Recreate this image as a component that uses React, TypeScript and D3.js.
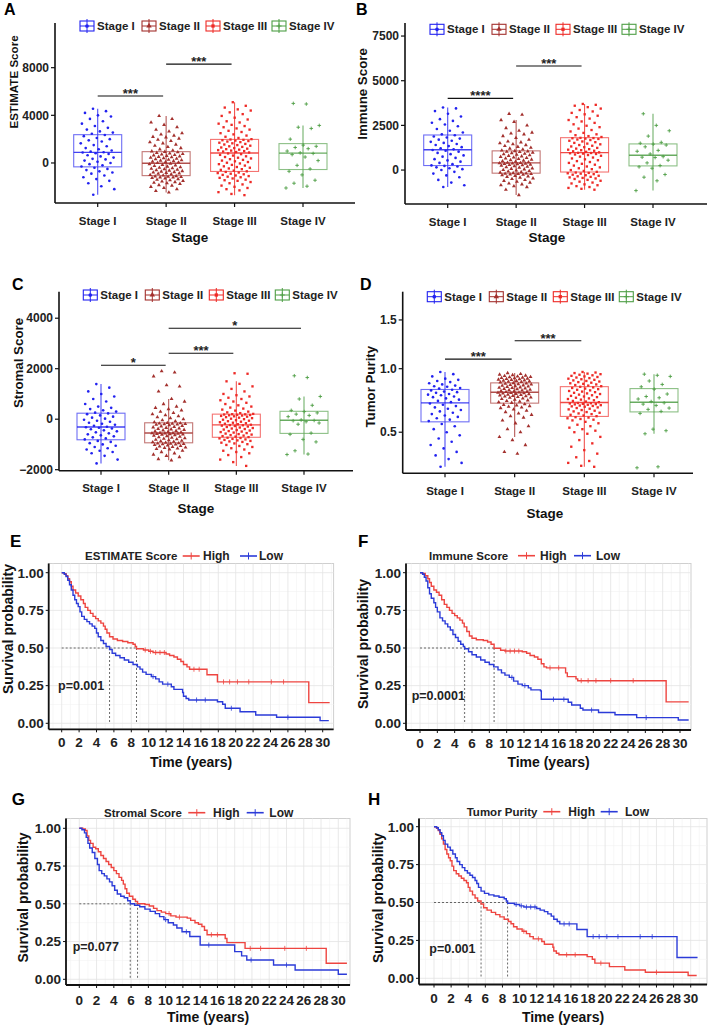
import React from "react";
import * as d3 from "d3";

const FONT = "'Liberation Sans', Arial, Helvetica, sans-serif";

const stages = ["Stage I", "Stage II", "Stage III", "Stage IV"];
const stageColors = ["#2222F0", "#A3302D", "#EE2A26", "#4E9E45"];
const stageShapes = ["circle", "triangle", "square", "plus"];

// ---------- Panel A: ESTIMATE score by stage ----------
const estimateStageI = [-2670, -2200, -1950, -1700, -1500, -1350, -1200, -1050, -900, -800, -700, -600, -500, -400,
  -300, -200, -100, 0, 100, 200, 300, 350, 450, 550, 650, 750, 820, 880, 900, 950, 1050, 1150, 1250, 1400, 1500, 1650, 1800, 1900, 2000, 2100, 2250, 2350,
  2450, 2550, 2650, 2800, 2950, 3100, 3300, 3500, 3700, 3900, 4000, 4200, 4350, 4550];
const estimateStageII = [-2470, -2350, -2200, -2100, -2000, -1900, -1850, -1750, -1700, -1650, -1600, -1550, -1500, -1450, -1400, -1350, -1300, -1250, -1220, -1200, -1170, -1150, -1120, -1100,
  -1050, -1000, -950, -900, -870, -830, -800, -760, -720, -680, -640, -600, -560, -520, -480, -440, -400, -350, -300, -250, -200, -150, -100, -50,
  0, 40, 80, 120, 160, 200, 240, 280, 320, 360, 400, 440, 480, 520, 560, 600, 640, 680, 720, 760, 800, 850, 900, 940,
  980, 1050, 1150, 1250, 1350, 1450, 1550, 1650, 1750, 1850, 1950, 2050, 2150, 2200, 2300, 2400, 2500, 2650, 2800, 3000, 3200, 3400, 3700, 3950];
const estimateStageIII = [-2700, -2600, -2450, -2300, -2200, -2100, -2000, -1900, -1800, -1700, -1600, -1500, -1450, -1400, -1300, -1250, -1200, -1150, -1100, -1050, -1000, -950, -900, -850, -800, -750,
  -700, -640, -580, -520, -460, -400, -340, -280, -220, -160, -100, -40, 20, 80, 140, 200, 260, 320, 380, 440, 500, 560, 620, 680, 740, 800,
  880, 920, 960, 1000, 1040, 1080, 1120, 1160, 1200, 1250, 1300, 1350, 1400, 1450, 1500, 1550, 1600, 1650, 1700, 1750, 1800, 1840, 1880, 1910, 1940, 1970,
  2000, 2100, 2200, 2300, 2400, 2500, 2600, 2700, 2800, 2900, 3000, 3100, 3200, 3300, 3400, 3500, 3650, 3800, 3950, 4100, 4250, 4400, 4500, 4650, 4800, 5100];
const estimateStageIV = [-2100, -1950, -1700, -1450, -1000, -700, -500, -200, 200, 500, 700, 800, 850, 1000, 1200, 1300, 1400, 1500, 2000, 2900, 3000, 3150, 4950, 5000];
const estimateTicks = [0, 4000, 8000];

// ---------- Panel B: Immune score by stage ----------
const immuneStageI = [-950, -850, -700, -550, -400, -300, -200, -100, 0, 50, 100, 150, 200, 230,
  260, 330, 400, 470, 540, 610, 680, 750, 820, 890, 960, 1030, 1080, 1120,
  1160, 1220, 1280, 1340, 1400, 1460, 1520, 1580, 1640, 1700, 1760, 1820, 1880, 1950,
  2000, 2100, 2200, 2300, 2450, 2550, 2650, 2750, 2850, 3000, 3150, 3300, 3450, 3500];
const immuneStageII = [-1400, -1100, -950, -900, -850, -800, -750, -700, -650, -600, -550, -500, -460, -420, -380, -350, -320, -290, -260, -240, -220, -210, -200, -190,
  -170, -140, -110, -80, -50, -20, 10, 40, 70, 100, 130, 160, 190, 220, 250, 270, 290, 310, 330, 350, 360, 370, 385, 395,
  410, 440, 470, 500, 530, 560, 590, 620, 650, 680, 710, 740, 770, 800, 830, 860, 890, 920, 950, 980, 1010, 1030, 1050, 1065,
  1100, 1150, 1200, 1250, 1300, 1350, 1400, 1450, 1500, 1550, 1600, 1700, 1800, 1900, 2000, 2050, 2100, 2200, 2350, 2500, 2700, 2800, 3100, 3150];
const immuneStageIII = [-1100, -1050, -1000, -950, -900, -850, -800, -750, -700, -650, -600, -550, -500, -470, -440, -410, -380, -350, -320, -290, -260, -230, -200, -180, -160, -140,
  -100, -50, 0, 50, 100, 150, 200, 250, 300, 350, 400, 450, 500, 550, 600, 650, 700, 750, 800, 840, 870, 900, 920, 940, 955, 965,
  990, 1020, 1050, 1080, 1110, 1140, 1170, 1200, 1240, 1280, 1320, 1360, 1400, 1440, 1480, 1520, 1560, 1600, 1640, 1680, 1710, 1740, 1760, 1780, 1790, 1800,
  1850, 1900, 1950, 2000, 2080, 2160, 2240, 2320, 2400, 2480, 2560, 2640, 2720, 2800, 2880, 2960, 3040, 3120, 3200, 3280, 3360, 3440, 3520, 3600, 3650, 3700];
const immuneStageIV = [-1150, -600, -400, -250, 100, 180, 250, 400, 550, 700, 720, 750, 900, 1050, 1100, 1300, 1400, 1450, 1500, 1550, 1900, 2200, 2500, 3150];
const immuneTicks = [0, 2500, 5000, 7500];

// ---------- Panel C: Stromal score by stage ----------
const stromalStageI = [-1750, -1600, -1450, -1350, -1300, -1250, -1200, -1150, -1100, -1050, -1000, -950, -900, -860,
  -800, -760, -720, -680, -640, -600, -560, -520, -480, -440, -400, -370, -340, -320,
  -300, -260, -220, -180, -140, -100, -60, -20, 20, 60, 100, 150, 200, 230,
  260, 300, 350, 400, 450, 500, 600, 700, 800, 900, 1000, 1100, 1250, 1390];
const stromalStageII = [-1630, -1580, -1500, -1450, -1400, -1350, -1300, -1250, -1200, -1180, -1160, -1140, -1120, -1100, -1080, -1060, -1040, -1020, -1000, -990, -980, -970, -960, -950,
  -930, -910, -890, -870, -850, -830, -810, -790, -770, -750, -730, -710, -690, -670, -650, -630, -610, -600, -590, -580, -570, -560, -555, -548,
  -540, -520, -500, -480, -460, -440, -420, -400, -380, -360, -340, -320, -300, -280, -260, -240, -220, -210, -200, -190, -180, -170, -160, -150,
  -120, -80, -40, 0, 40, 80, 120, 160, 200, 250, 300, 350, 400, 450, 500, 600, 700, 800, 1100, 1300, 1350, 1700, 1850, 1900];
const stromalStageIII = [-1850, -1700, -1600, -1500, -1420, -1350, -1300, -1250, -1200, -1150, -1100, -1060, -1020, -990, -960, -930, -900, -880, -860, -840, -820, -800, -780, -760, -745, -735,
  -710, -690, -670, -650, -630, -610, -590, -570, -550, -530, -510, -490, -470, -450, -430, -410, -390, -370, -350, -330, -310, -290, -270, -255, -240, -232,
  -220, -200, -180, -160, -140, -120, -100, -80, -60, -40, -20, 0, 20, 40, 60, 80, 100, 115, 130, 145, 155, 165, 175, 185, 192, 197,
  210, 240, 270, 300, 340, 380, 420, 460, 500, 550, 600, 650, 700, 750, 800, 850, 900, 950, 1000, 1100, 1200, 1300, 1400, 1500, 1800, 1820];
const stromalStageIV = [-1400, -1380, -1250, -900, -800, -600, -550, -200, -150, -100, -60, -50, -30, 100, 150, 200, 250, 300, 350, 550, 800, 900, 1650, 1720];
const stromalTicks = [-2000, 0, 2000, 4000];

// ---------- Panel D: Tumor purity by stage ----------
const purityStageI = [0.30, 0.32, 0.34, 0.36, 0.38, 0.40, 0.42, 0.44, 0.46, 0.48, 0.50, 0.52, 0.54, 0.555,
  0.575, 0.585, 0.595, 0.605, 0.615, 0.625, 0.635, 0.645, 0.655, 0.665, 0.675, 0.685, 0.695, 0.705,
  0.715, 0.725, 0.735, 0.745, 0.755, 0.76, 0.77, 0.775, 0.78, 0.79, 0.795, 0.80, 0.81, 0.815,
  0.825, 0.83, 0.84, 0.845, 0.85, 0.86, 0.87, 0.88, 0.89, 0.90, 0.91, 0.93, 0.95, 0.97];
const purityStageII = [0.37, 0.38, 0.42, 0.45, 0.47, 0.50, 0.52, 0.54, 0.56, 0.58, 0.60, 0.61, 0.62, 0.63, 0.64, 0.65, 0.66, 0.67, 0.675, 0.68, 0.685, 0.69, 0.695, 0.70,
  0.71, 0.715, 0.72, 0.725, 0.73, 0.735, 0.74, 0.745, 0.75, 0.753, 0.756, 0.76, 0.763, 0.766, 0.77, 0.773, 0.776, 0.78, 0.782, 0.785, 0.787, 0.789, 0.791, 0.793,
  0.797, 0.80, 0.803, 0.806, 0.81, 0.813, 0.816, 0.82, 0.823, 0.826, 0.83, 0.833, 0.836, 0.84, 0.843, 0.846, 0.85, 0.853, 0.856, 0.86, 0.863, 0.866, 0.869, 0.872,
  0.878, 0.881, 0.884, 0.887, 0.89, 0.893, 0.896, 0.899, 0.902, 0.905, 0.908, 0.911, 0.914, 0.917, 0.92, 0.923, 0.926, 0.93, 0.934, 0.938, 0.942, 0.947, 0.952, 0.96];
const purityStageIII = [0.30, 0.305, 0.32, 0.33, 0.35, 0.37, 0.39, 0.41, 0.43, 0.45, 0.47, 0.49, 0.50, 0.51, 0.52, 0.53, 0.54, 0.55, 0.56, 0.57, 0.58, 0.585, 0.59, 0.595, 0.60, 0.603,
  0.61, 0.615, 0.62, 0.625, 0.63, 0.635, 0.64, 0.645, 0.65, 0.655, 0.66, 0.665, 0.67, 0.675, 0.68, 0.683, 0.686, 0.689, 0.692, 0.695, 0.698, 0.70, 0.702, 0.705, 0.707, 0.709,
  0.715, 0.72, 0.725, 0.73, 0.735, 0.74, 0.745, 0.75, 0.755, 0.76, 0.765, 0.77, 0.775, 0.78, 0.785, 0.79, 0.795, 0.80, 0.805, 0.81, 0.815, 0.82, 0.825, 0.83, 0.835, 0.84,
  0.845, 0.85, 0.855, 0.86, 0.865, 0.87, 0.875, 0.88, 0.885, 0.89, 0.895, 0.90, 0.905, 0.91, 0.915, 0.92, 0.925, 0.93, 0.935, 0.94, 0.945, 0.95, 0.955, 0.96, 0.965, 0.97];
const purityStageIV = [0.295, 0.30, 0.49, 0.51, 0.52, 0.63, 0.645, 0.66, 0.67, 0.69, 0.70, 0.71, 0.72, 0.74, 0.75, 0.76, 0.78, 0.82, 0.84, 0.86, 0.89, 0.93, 0.94, 0.95];
const purityTicks = [0.5, 1.0, 1.5];

// significance brackets (group1, group2, value height, label)
const estimateSig = [["Stage I", "Stage II", 5620, "***"], ["Stage II", "Stage III", 8300, "***"]];
const immuneSig = [["Stage I", "Stage II", 4010, "****"], ["Stage II", "Stage III", 5820, "***"]];
const stromalSig = [["Stage I", "Stage II", 2135, "*"], ["Stage II", "Stage III", 2610, "***"], ["Stage II", "Stage IV", 3600, "*"]];
const puritySig = [["Stage I", "Stage II", 1.09, "***"], ["Stage II", "Stage III", 1.275, "***"]];

// ---------- Kaplan-Meier curves: [time (years), survival] ----------
const estimateHigh = [[0, 1], [0.3, 0.993], [0.5, 0.98], [0.7, 0.96], [0.9, 0.94], [1.1, 0.91], [1.3, 0.885], [1.6, 0.865], [1.9, 0.845], [2.2, 0.82], [2.5, 0.795], [2.7, 0.77], [3.0, 0.75], [3.3, 0.73], [3.6, 0.71], [3.9, 0.695], [4.2, 0.68], [4.5, 0.665], [4.8, 0.645], [5.0, 0.625], [5.2, 0.6], [5.5, 0.575], [5.9, 0.56], [6.4, 0.55], [7.0, 0.543], [7.6, 0.535], [8.2, 0.525], [8.45, 0.51], [8.6, 0.495], [9.4, 0.487], [10.0, 0.478], [10.5, 0.47], [12.0, 0.46], [12.4, 0.45], [12.9, 0.44], [13.3, 0.425], [13.7, 0.41], [14.0, 0.39], [14.4, 0.375], [14.7, 0.359], [16.7, 0.322], [17.9, 0.275], [28.4, 0.137], [30.8, 0.137]];
const estimateLow = [[0, 1], [0.3, 0.99], [0.5, 0.975], [0.7, 0.95], [0.9, 0.92], [1.1, 0.885], [1.3, 0.85], [1.5, 0.82], [1.7, 0.795], [1.9, 0.775], [2.1, 0.74], [2.3, 0.71], [2.6, 0.69], [2.9, 0.675], [3.2, 0.66], [3.5, 0.645], [3.8, 0.63], [4.0, 0.6], [4.2, 0.575], [4.5, 0.55], [4.8, 0.53], [5.1, 0.51], [5.5, 0.49], [5.8, 0.465], [6.2, 0.45], [6.7, 0.435], [7.2, 0.42], [7.7, 0.405], [8.2, 0.39], [8.7, 0.375], [9.0, 0.36], [9.3, 0.34], [9.7, 0.325], [10.3, 0.31], [10.8, 0.295], [11.2, 0.275], [11.6, 0.26], [12.6, 0.243], [12.9, 0.225], [13.9, 0.205], [14.0, 0.18], [14.3, 0.165], [14.6, 0.155], [17.9, 0.143], [18.5, 0.126], [18.8, 0.1], [20.5, 0.077], [22.3, 0.055], [24.7, 0.04], [29.7, 0.018], [30.7, 0.018]];
const estimateHighCensor = [9.6, 10.2, 10.8, 11.3, 11.8, 15.2, 15.8, 18.6, 19.3, 20.2, 21.5, 24.1, 25.5];
const estimateLowCensor = [10.5, 12.2, 15.5, 16.5, 19.5, 26.0];

const immuneHigh = [[0, 1], [0.3, 0.995], [0.6, 0.98], [0.9, 0.96], [1.1, 0.935], [1.3, 0.91], [1.6, 0.885], [1.9, 0.87], [2.2, 0.85], [2.5, 0.82], [2.8, 0.79], [3.1, 0.77], [3.4, 0.75], [3.7, 0.73], [4.0, 0.715], [4.3, 0.7], [4.6, 0.685], [4.9, 0.665], [5.1, 0.64], [5.4, 0.61], [5.7, 0.58], [6.0, 0.565], [6.5, 0.555], [7.3, 0.55], [7.8, 0.54], [8.2, 0.525], [8.55, 0.498], [9.3, 0.485], [9.8, 0.48], [11.8, 0.475], [12.3, 0.465], [12.7, 0.45], [13.2, 0.44], [13.6, 0.425], [14.0, 0.395], [14.3, 0.375], [14.6, 0.368], [16.8, 0.335], [17.0, 0.31], [18.0, 0.295], [18.2, 0.283], [28.4, 0.142], [31.0, 0.142]];
const immuneLow = [[0, 1], [0.3, 0.99], [0.5, 0.97], [0.7, 0.945], [0.9, 0.9], [1.1, 0.86], [1.3, 0.83], [1.6, 0.8], [1.8, 0.77], [2.0, 0.74], [2.3, 0.7], [2.6, 0.68], [2.9, 0.66], [3.2, 0.64], [3.5, 0.62], [3.8, 0.59], [4.1, 0.57], [4.4, 0.545], [4.7, 0.525], [5.0, 0.51], [5.15, 0.495], [5.6, 0.475], [6.0, 0.455], [6.5, 0.44], [7.0, 0.42], [7.5, 0.405], [8.0, 0.39], [8.5, 0.375], [9.0, 0.355], [9.4, 0.335], [9.8, 0.32], [10.3, 0.305], [10.8, 0.28], [11.3, 0.26], [11.8, 0.25], [12.5, 0.235], [12.8, 0.222], [13.9, 0.215], [14.0, 0.16], [17.1, 0.14], [17.5, 0.122], [18.5, 0.1], [18.8, 0.088], [20.6, 0.072], [22.5, 0.057], [25.0, 0.038], [29.8, 0.022], [31.0, 0.022]];
const immuneHighCensor = [9.9, 10.4, 10.9, 11.4, 15.0, 16.0, 18.6, 19.4, 20.3, 22.0, 24.6];
const immuneLowCensor = [10.6, 12.1, 15.4, 16.6, 19.8, 26.1];

const stromalHigh = [[0, 1], [0.4, 0.995], [0.7, 0.985], [0.9, 0.95], [1.1, 0.92], [1.3, 0.9], [1.6, 0.875], [1.9, 0.865], [2.2, 0.845], [2.5, 0.82], [2.8, 0.8], [3.1, 0.78], [3.4, 0.76], [3.7, 0.74], [4.0, 0.72], [4.3, 0.7], [4.6, 0.675], [4.9, 0.655], [5.1, 0.63], [5.3, 0.6], [5.5, 0.57], [5.8, 0.55], [6.2, 0.53], [6.5, 0.515], [6.75, 0.5], [7.6, 0.495], [8.1, 0.485], [8.6, 0.47], [9.0, 0.455], [9.5, 0.445], [10.0, 0.435], [10.6, 0.42], [11.2, 0.412], [12.5, 0.405], [12.9, 0.39], [13.4, 0.375], [13.8, 0.365], [14.2, 0.35], [14.5, 0.325], [14.8, 0.295], [16.9, 0.27], [17.1, 0.243], [19.2, 0.205], [28.6, 0.106], [31.0, 0.106]];
const stromalLow = [[0, 1], [0.3, 0.99], [0.6, 0.97], [0.8, 0.94], [1.0, 0.9], [1.2, 0.87], [1.5, 0.84], [1.8, 0.8], [2.1, 0.76], [2.3, 0.72], [2.6, 0.7], [2.9, 0.685], [3.2, 0.665], [3.5, 0.645], [3.8, 0.62], [4.1, 0.59], [4.4, 0.565], [4.8, 0.55], [5.2, 0.54], [5.6, 0.52], [5.9, 0.5], [6.4, 0.49], [7.0, 0.48], [7.6, 0.465], [8.2, 0.45], [8.8, 0.435], [9.3, 0.415], [9.8, 0.395], [10.3, 0.375], [10.9, 0.36], [11.3, 0.34], [11.9, 0.315], [12.8, 0.283], [14.0, 0.227], [18.0, 0.183], [18.8, 0.155], [19.4, 0.128], [22.5, 0.095], [25.0, 0.062], [30.0, 0.033], [31.0, 0.033]];
const stromalHighCensor = [10.4, 11.6, 15.3, 16.0, 19.8, 21.0, 23.8, 26.3];
const stromalLowCensor = [10.0, 12.4, 15.0, 19.9, 24.0];

// Tumor purity groups mirror the ESTIMATE groups (high purity = low ESTIMATE)
const purityHigh = estimateLow;
const purityLow = estimateHigh;
const purityHighCensor = estimateLowCensor;
const purityLowCensor = estimateHighCensor;

const kmXTicks = d3.range(0, 31, 2);
const kmYTicks = [0, 0.25, 0.5, 0.75, 1];
const KM_RED = "#EE4540";
const KM_BLUE = "#2B3BD8";

// ---------- layouts ----------
const boxPanels = [
  { letter: "A", lx: 4, ly: 15, axisX: 55, axisY: 203, top: 23, right: 355, cx: [97.7, 303], domain: [-3360, 11750], sqrt: false, ticks: estimateTicks,
    groups: [estimateStageI, estimateStageII, estimateStageIII, estimateStageIV], sig: estimateSig,
    yTitle: "ESTIMATE Score", ytx: 13, yty: 82, yts: 11.6, legendX: 80, legendY: 26, xTitleX: 190, xTitleY: 237 },
  { letter: "B", lx: 356, ly: 15, axisX: 405, axisY: 204, top: 23, right: 707, cx: [447.7, 653], domain: [-1900, 8230], sqrt: false, ticks: immuneTicks,
    groups: [immuneStageI, immuneStageII, immuneStageIII, immuneStageIV], sig: immuneSig,
    yTitle: "Immune Score", ytx: 362.7, yty: 94, yts: 13.3, legendX: 430, legendY: 29.3, xTitleX: 547, xTitleY: 237.3 },
  { letter: "C", lx: 12, ly: 290, axisX: 59, axisY: 470.7, top: 291.7, right: 353, cx: [101, 304], domain: [-2040, 5050], sqrt: false, ticks: stromalTicks,
    groups: [stromalStageI, stromalStageII, stromalStageIII, stromalStageIV], sig: stromalSig,
    yTitle: "Stromal Score", ytx: 18.3, yty: 363, yts: 13.3, legendX: 83.3, legendY: 295, xTitleX: 196, xTitleY: 508 },
  { letter: "D", lx: 360, ly: 290, axisX: 402.7, axisY: 473.3, top: 291.7, right: 693, cx: [445, 654], domain: [0.268, 1.836], sqrt: true, ticks: purityTicks,
    groups: [purityStageI, purityStageII, purityStageIII, purityStageIV], sig: puritySig,
    yTitle: "Tumor Purity", ytx: 370, yty: 386.7, yts: 13.3, legendX: 427.3, legendY: 296.7, xTitleX: 545, xTitleY: 513.3 },
];

const kmPanels = [
  { letter: "E", lx: 10, ly: 546.7, left: 48.7, right: 333.6, top: 563.5, bottom: 729.3, x0: 61.7, x30: 322.7, y0: 723.3, y1: 572.7,
    high: estimateHigh, low: estimateLow, highC: estimateHighCensor, lowC: estimateLowCensor, title: "ESTIMATE Score",
    titleX: 85, redX: 182.7, highX: 203, blueX: 240, lowX: 259, legY: 556, p: "p=0.001", px: 58, py: 685.7, ytx: 7.5, yty: 629, xtY: 741.7, xTitleY: 761.7 },
  { letter: "F", lx: 358, ly: 546.7, left: 406, right: 691, top: 563.5, bottom: 730, x0: 420, x30: 680, y0: 723.3, y1: 572.7,
    high: immuneHigh, low: immuneLow, highC: immuneHighCensor, lowC: immuneLowCensor, title: "Immune Score",
    titleX: 429, redX: 518, highX: 540, blueX: 574, lowX: 596, legY: 555.7, p: "p=0.0001", px: 411.7, py: 695.7, ytx: 363, yty: 644, xtY: 742.7, xTitleY: 762.3 },
  { letter: "G", lx: 11.7, ly: 805, left: 66, right: 350, top: 818.5, bottom: 985, x0: 79.3, x30: 338.3, y0: 979.3, y1: 828.3,
    high: stromalHigh, low: stromalLow, highC: stromalHighCensor, lowC: stromalLowCensor, title: "Stromal Score",
    titleX: 104, redX: 188.3, highX: 213, blueX: 246.7, lowX: 269.3, legY: 812.7, p: "p=0.077", px: 72.7, py: 946.7, ytx: 23.3, yty: 897.5, xtY: 1000, xTitleY: 1017.3 },
  { letter: "H", lx: 368, ly: 805, left: 419, right: 707, top: 818.5, bottom: 984.5, x0: 434, x30: 690.7, y0: 978.3, y1: 826.7,
    high: purityHigh, low: purityLow, highC: purityHighCensor, lowC: purityLowCensor, title: "Tumor Purity",
    titleX: 466.7, redX: 543.3, highX: 568.3, blueX: 600.7, lowX: 625, legY: 811.7, p: "p=0.001", px: 429.3, py: 948.3, ytx: 377.5, yty: 898, xtY: 998.3, xTitleY: 1016.7 },
];

const legendOffsets = [0, 62, 126, 192];

function Shape({ type, x, y, color, s = 1 }) {
  if (type === "plus") {
    const h = 1.8 * s;
    return <path d={`M${x - h},${y}H${x + h}M${x},${y - h}V${y + h}`} stroke={color} strokeWidth={0.9} fill="none" />;
  }
  const sym = type === "circle" ? d3.symbolCircle : type === "triangle" ? d3.symbolTriangle : d3.symbolSquare;
  const size = (type === "circle" ? 5.5 : type === "triangle" ? 6.5 : 5.5) * s * s;
  return <path d={d3.symbol().type(sym).size(size)() || ""} transform={`translate(${x},${y})`} fill={color} />;
}

function BoxPanel({ p }) {
  const x = d3.scalePoint().domain(stages).range(p.cx);
  const y = (p.sqrt ? d3.scaleSqrt() : d3.scaleLinear()).domain(p.domain).range([p.axisY, p.top]);
  const boxW = 48;
  const jitter = 17;
  const tickFmt = p.sqrt ? d3.format(".1f") : d3.format("d");
  return (
    <g fontFamily={FONT} fontWeight="bold">
      <text x={p.lx} y={p.ly} fontSize={16}>{p.letter}</text>
      {p.groups.map((vals, gi) => {
        const sorted = vals.slice().sort(d3.ascending);
        const q1 = d3.quantile(sorted, 0.25);
        const med = d3.quantile(sorted, 0.5);
        const q3 = d3.quantile(sorted, 0.75);
        const iqr = q3 - q1;
        const lo = d3.min(sorted.filter(v => v >= q1 - 1.5 * iqr));
        const hi = d3.max(sorted.filter(v => v <= q3 + 1.5 * iqr));
        const cx = x(stages[gi]);
        const col = stageColors[gi];
        return (
          <g key={gi}>
            <line x1={cx} x2={cx} y1={y(hi)} y2={y(q3)} stroke={col} strokeWidth={1.1} strokeOpacity={0.8} />
            <line x1={cx} x2={cx} y1={y(q1)} y2={y(lo)} stroke={col} strokeWidth={1.1} strokeOpacity={0.8} />
            <rect x={cx - boxW / 2} y={y(q3)} width={boxW} height={y(q1) - y(q3)} fill="white" stroke={col} strokeWidth={1.1} strokeOpacity={0.65} />
            <line x1={cx - boxW / 2} x2={cx + boxW / 2} y1={y(med)} y2={y(med)} stroke={col} strokeWidth={1.4} strokeOpacity={0.85} />
            <line x1={cx} x2={cx} y1={y(q3)} y2={y(q1)} stroke={col} strokeWidth={1.1} strokeOpacity={0.8} />
            {vals.map((v, i) => {
              const off = (((i * 0.6180339887 + 0.37 + gi * 0.21) % 1) - 0.5) * 2 * jitter;
              return <Shape key={i} type={stageShapes[gi]} x={cx + off} y={y(v)} color={col} />;
            })}
          </g>
        );
      })}
      <line x1={p.axisX} x2={p.axisX} y1={p.top} y2={p.axisY} stroke="#111" strokeWidth={1.6} />
      <line x1={p.axisX} x2={p.right} y1={p.axisY} y2={p.axisY} stroke="#111" strokeWidth={1.6} />
      {p.ticks.map(t => (
        <g key={t}>
          <line x1={p.axisX - 4} x2={p.axisX} y1={y(t)} y2={y(t)} stroke="#111" strokeWidth={1.2} />
          <text x={p.axisX - 6} y={y(t) + 4.2} fontSize={12} textAnchor="end" fill="#222">{tickFmt(t)}</text>
        </g>
      ))}
      {stages.map(s => (
        <g key={s}>
          <line x1={x(s)} x2={x(s)} y1={p.axisY} y2={p.axisY + 4} stroke="#111" strokeWidth={1.2} />
          <text x={x(s)} y={p.axisY + 17.5 + 4} fontSize={11.5} textAnchor="middle" fill="#222">{s}</text>
        </g>
      ))}
      <text x={p.xTitleX} y={p.xTitleY + 4.8} fontSize={13.5} textAnchor="middle" fill="#111">Stage</text>
      <text transform={`translate(${p.ytx},${p.yty}) rotate(-90)`} dy={4.6} fontSize={p.yts} textAnchor="middle" fill="#111">{p.yTitle}</text>
      {p.sig.map(([g1, g2, v, lab], i) => {
        const x1 = x(g1), x2 = x(g2) - 3;
        return (
          <g key={i}>
            <line x1={x1} x2={x2} y1={y(v)} y2={y(v)} stroke="#111" strokeWidth={1.1} />
            <text x={(x1 + x2) / 2} y={y(v) + 2} fontSize={13} textAnchor="middle" fill="#222">{lab}</text>
          </g>
        );
      })}
      {stages.map((s, i) => {
        const lx = p.legendX + legendOffsets[i];
        const ly = p.legendY;
        const col = stageColors[i];
        return (
          <g key={s}>
            <rect x={lx} y={ly - 5} width={14} height={10} fill="white" stroke={col} strokeWidth={1.1} />
            <line x1={lx + 7} x2={lx + 7} y1={ly - 7} y2={ly + 7} stroke={col} strokeWidth={1} />
            <line x1={lx} x2={lx + 14} y1={ly} y2={ly} stroke={col} strokeWidth={1} />
            <Shape type={stageShapes[i]} x={lx + 7} y={ly} color={col} s={1.4} />
            <text x={lx + 17} y={ly + 4.1} fontSize={11.5} fill="#222">{s}</text>
          </g>
        );
      })}
    </g>
  );
}

function survAt(curve, t) {
  let s = 1;
  for (const [ti, si] of curve) {
    if (ti <= t) s = si; else break;
  }
  return s;
}

function KMPanel({ p }) {
  const x = d3.scaleLinear().domain([0, 30]).range([p.x0, p.x30]);
  const y = d3.scaleLinear().domain([0, 1]).range([p.y0, p.y1]);
  const line = d3.line().x(d => x(d[0])).y(d => y(d[1])).curve(d3.curveStepAfter);
  const minorX = d3.range(-1, 33, 2).filter(t => x(t) > p.left && x(t) < p.right);
  const minorY = [0.125, 0.375, 0.625, 0.875];
  const medHigh = p.high.find(d => d[1] <= 0.5)[0];
  const medLow = p.low.find(d => d[1] <= 0.5)[0];
  const medMax = Math.max(medHigh, medLow);
  const clipId = `clip-${p.letter}`;
  const curves = [[p.high, p.highC, KM_RED], [p.low, p.lowC, KM_BLUE]];
  return (
    <g fontFamily={FONT} fontWeight="bold">
      <defs>
        <clipPath id={clipId}><rect x={p.left} y={p.top} width={p.right - p.left} height={p.bottom - p.top} /></clipPath>
      </defs>
      <text x={p.lx} y={p.ly} fontSize={17}>{p.letter}</text>
      <rect x={p.left} y={p.top} width={p.right - p.left} height={p.bottom - p.top} fill="white" stroke="#cfcfcf" strokeWidth={1} />
      {minorX.map(t => <line key={"mx" + t} x1={x(t)} x2={x(t)} y1={p.top} y2={p.bottom} stroke="#f1f1f1" strokeWidth={0.6} />)}
      {minorY.map(t => <line key={"my" + t} x1={p.left} x2={p.right} y1={y(t)} y2={y(t)} stroke="#f1f1f1" strokeWidth={0.6} />)}
      {kmXTicks.map(t => <line key={"gx" + t} x1={x(t)} x2={x(t)} y1={p.top} y2={p.bottom} stroke="#e3e3e3" strokeWidth={0.8} />)}
      {kmYTicks.map(t => <line key={"gy" + t} x1={p.left} x2={p.right} y1={y(t)} y2={y(t)} stroke="#e3e3e3" strokeWidth={0.8} />)}
      <g stroke="#444" strokeWidth={0.8} strokeDasharray="2,2" fill="none">
        <line x1={x(0)} x2={x(medMax)} y1={y(0.5)} y2={y(0.5)} />
        <line x1={x(medHigh)} x2={x(medHigh)} y1={y(0.5)} y2={y(0)} />
        <line x1={x(medLow)} x2={x(medLow)} y1={y(0.5)} y2={y(0)} />
      </g>
      <g clipPath={`url(#${clipId})`}>
        {curves.map(([c, cens, col], i) => (
          <g key={i}>
            <path d={line(c) || ""} fill="none" stroke={col} strokeWidth={1.4} />
            {cens.map((t, j) => (
              <line key={j} x1={x(t)} x2={x(t)} y1={y(survAt(c, t)) - 2.5} y2={y(survAt(c, t)) + 2.5} stroke={col} strokeWidth={0.8} />
            ))}
          </g>
        ))}
      </g>
      <line x1={p.left} x2={p.left} y1={p.top} y2={p.bottom} stroke="#111" strokeWidth={1.8} />
      <line x1={p.left} x2={p.right} y1={p.bottom} y2={p.bottom} stroke="#111" strokeWidth={1.8} />
      {kmYTicks.map(t => (
        <g key={"yt" + t}>
          <line x1={p.left - 3} x2={p.left} y1={y(t)} y2={y(t)} stroke="#111" strokeWidth={1} />
          <text x={p.left - 5} y={y(t) + 4.8} fontSize={13.5} textAnchor="end" fill="#222">{d3.format(".2f")(t)}</text>
        </g>
      ))}
      {kmXTicks.map(t => (
        <g key={"xt" + t}>
          <line x1={x(t)} x2={x(t)} y1={p.bottom} y2={p.bottom + 3} stroke="#111" strokeWidth={1} />
          <text x={x(t)} y={p.xtY + 4.8} fontSize={13.5} textAnchor="middle" fill="#222">{t}</text>
        </g>
      ))}
      <text x={(p.left + p.right) / 2} y={p.xTitleY + 5} fontSize={14} textAnchor="middle" fill="#111">Time (years)</text>
      <text transform={`translate(${p.ytx},${p.yty}) rotate(-90)`} dy={5} fontSize={14} textAnchor="middle" fill="#111">Survival probability</text>
      <text x={p.px} y={p.py + 4.3} fontSize={12.5} fill="#222">{p.p}</text>
      <text x={p.titleX} y={p.legY + 4} fontSize={11.5} fill="#222">{p.title}</text>
      <line x1={p.redX} x2={p.redX + 17} y1={p.legY} y2={p.legY} stroke={KM_RED} strokeWidth={1.6} />
      <line x1={p.redX + 8.5} x2={p.redX + 8.5} y1={p.legY - 3.5} y2={p.legY + 3.5} stroke={KM_RED} strokeWidth={1} />
      <text x={p.highX} y={p.legY + 4.3} fontSize={12} fill="#222">High</text>
      <line x1={p.blueX} x2={p.blueX + 17} y1={p.legY} y2={p.legY} stroke={KM_BLUE} strokeWidth={1.6} />
      <line x1={p.blueX + 8.5} x2={p.blueX + 8.5} y1={p.legY - 3.5} y2={p.legY + 3.5} stroke={KM_BLUE} strokeWidth={1} />
      <text x={p.lowX} y={p.legY + 4.3} fontSize={12} fill="#222">Low</text>
    </g>
  );
}

export default function App() {
  return (
    <svg width={709} height={1034} viewBox="0 0 709 1034" style={{ position: "absolute", left: 0, top: 0, background: "white" }}>
      <rect x={0} y={0} width={709} height={1034} fill="white" />
      {boxPanels.map(p => <BoxPanel key={p.letter} p={p} />)}
      {kmPanels.map(p => <KMPanel key={p.letter} p={p} />)}
    </svg>
  );
}
